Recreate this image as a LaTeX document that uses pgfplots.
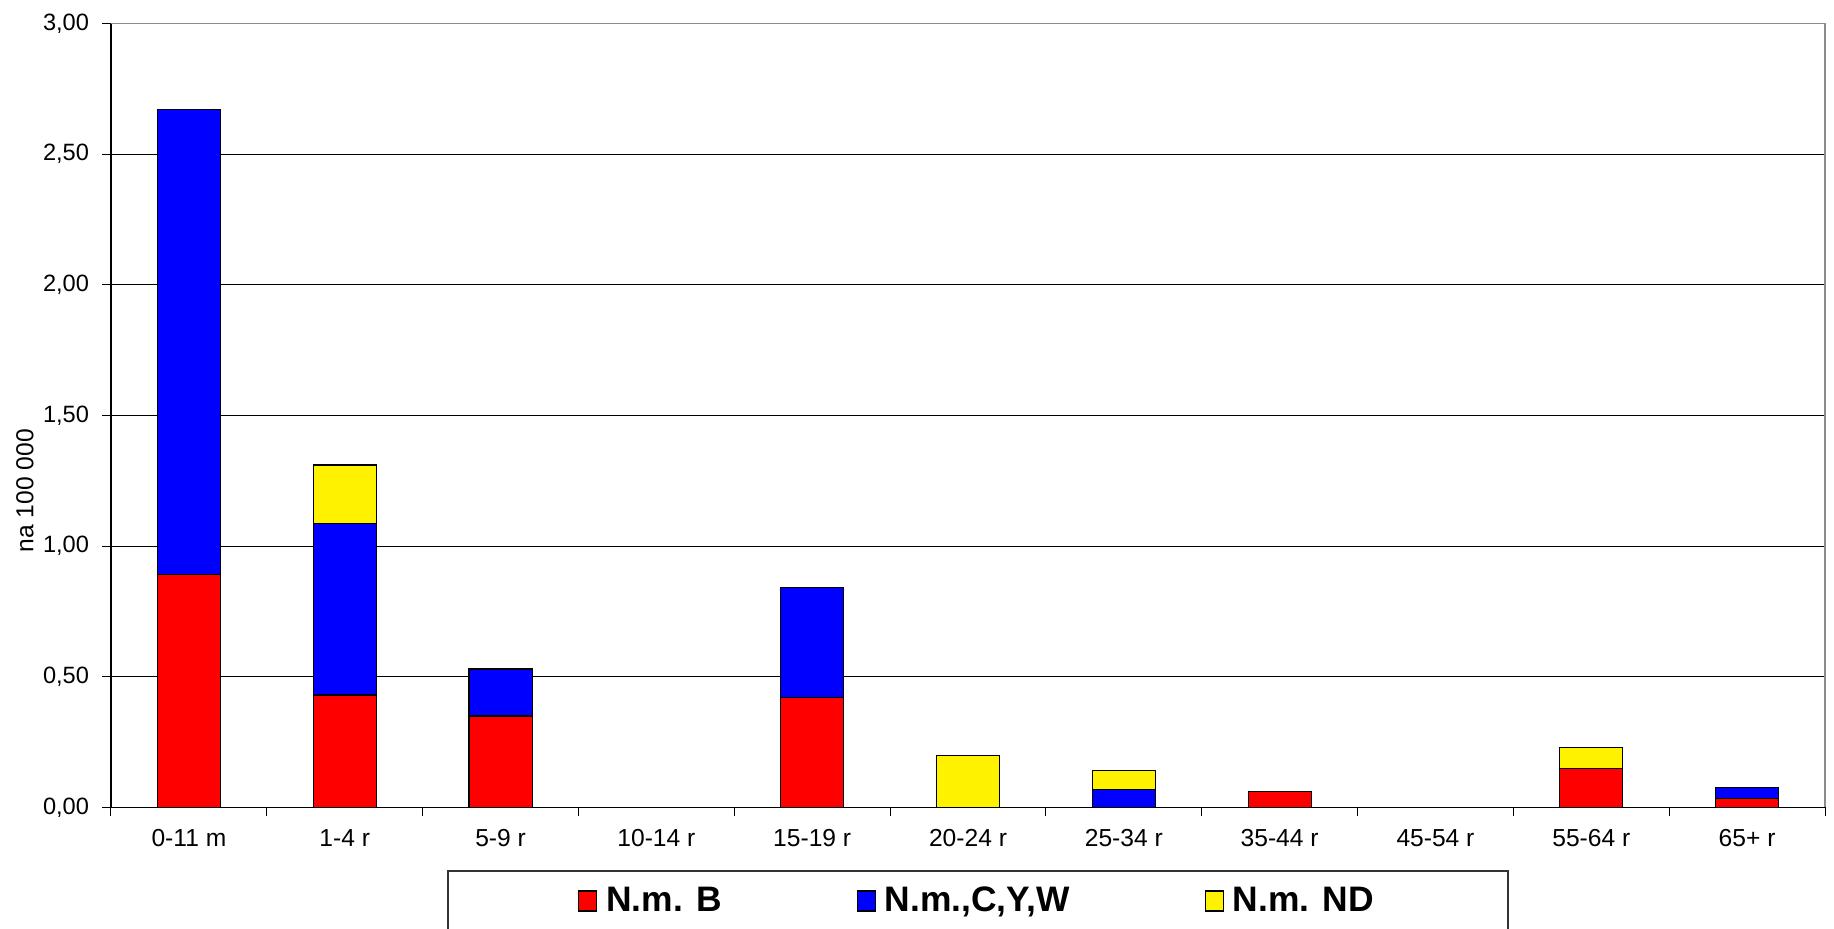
\documentclass[border=0pt]{standalone}
\usepackage{pgfplots}
\pgfplotsset{compat=1.18}
\usepackage{fontspec}
\setmainfont{Liberation Sans}
\begin{document}
\begin{tikzpicture}
\begin{axis}[
  scale only axis,
  width=857pt, height=392pt,
  ybar stacked,
  bar width=0.405,
  xmin=-0.5, xmax=10.5,
  ymin=0, ymax=3,
  ytick={0,0.5,...,3},
  yticklabel style={/pgf/number format/fixed,/pgf/number format/fixed zerofill,/pgf/number format/precision=2,/pgf/number format/use comma},
  /pgf/number format/assume math mode=true,
  ymajorgrids,
  grid style={black, line width=0.5pt},
  xtick={-0.5,0.5,...,10.5},
  x tick label as interval,
  xticklabels={0-11 m,1-4 r,5-9 r,10-14 r,15-19 r,20-24 r,25-34 r,35-44 r,45-54 r,55-64 r,65+ r},
  x tick label style={font=\fontsize{12.3}{14}\selectfont, yshift=-3pt},
  y tick label style={font=\fontsize{11.8}{14}\selectfont, xshift=-3pt},
  xtick pos=bottom, ytick pos=left,
  tick style={draw=black, line width=0.5pt},
  major tick length=4.5pt,
  tick align=outside,
  axis line style={draw=none},
  ylabel={na 100 000},
  ylabel style={font=\fontsize{12.3}{14}\selectfont, at={(axis description cs:-0.0502,0.404)}, anchor=center},
  legend columns=3,
  legend style={at={(axis description cs:0.5,0)}, anchor=north, yshift=-31.5pt, xshift=5pt,
    draw=black!80, line width=0.8pt, font=\bfseries\fontsize{17.7}{19}\selectfont,
    inner xsep=65pt, inner ysep=6pt,
    /tikz/every even column/.append style={column sep=65.5pt}},
  legend cell align=left,
  legend image code/.code={\draw[#1, draw=black, line width=0.6pt] (0pt,-5pt) rectangle (9pt,5pt); \path (11.5pt,0pt);},
  every axis plot/.append style={draw=black, line width=0.6pt},
  clip=false,
]
\addplot[fill=red] coordinates {(0,0.89) (1,0.43) (2,0.35) (3,0) (4,0.42) (5,0) (6,0) (7,0.06) (8,0) (9,0.15) (10,0.035)};
\addplot[fill=blue] coordinates {(0,1.78) (1,0.655) (2,0.18) (3,0) (4,0.42) (5,0) (6,0.07) (7,0) (8,0) (9,0) (10,0.042)};
\addplot[fill=yellow] coordinates {(0,0) (1,0.225) (2,0) (3,0) (4,0) (5,0.20) (6,0.07) (7,0) (8,0) (9,0.08) (10,0)};
\legend{N.m. B,{N.m.,C,Y,W},N.m. ND}
\draw[black!45, line width=0.8pt] (rel axis cs:0,1) -- (rel axis cs:1,1) -- (rel axis cs:1,0);
\draw[black, line width=0.6pt] (rel axis cs:0,1) -- (rel axis cs:0,0) -- (rel axis cs:1,0);
\end{axis}
\pgfresetboundingbox
\useasboundingbox (-55.5pt,-60.5pt) rectangle (861.5pt,403.7pt);
\end{tikzpicture}
\end{document}
